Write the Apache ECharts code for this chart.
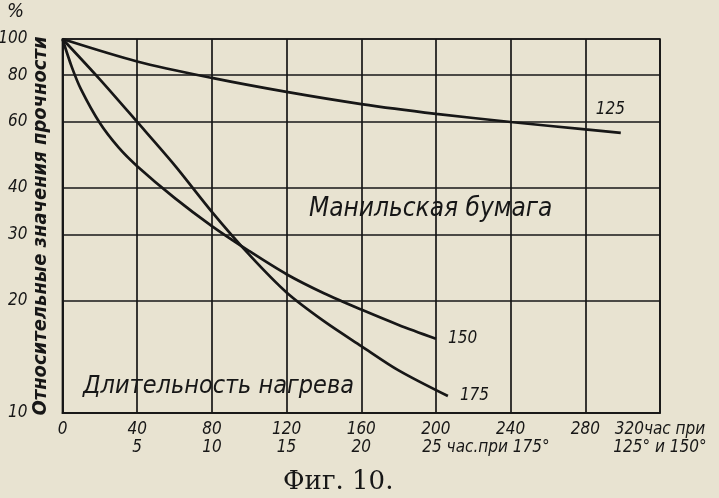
<!DOCTYPE html>
<html><head><meta charset="utf-8">
<script src="https://cdn.jsdelivr.net/npm/echarts@6/dist/echarts.min.js"></script>
<style>html,body{margin:0;padding:0;background:#e8e3d1}#c{width:719px;height:498px}</style>
</head><body><div id="c"></div>
<script>
// ---- data ----
const xTicksMain = [0, 40, 80, 120, 160, 200, 240, 280, 320];
const xLabelsMain = ['0', '40', '80', '120', '160', '200', '240', '280', '320час при'];
const xTicks175 = [5, 10, 15, 20, 25, 40];
const xLabels175 = ['5', '10', '15', '20', '25 час.при 175°', '125° и 150°'];
const yTicks = [10, 20, 30, 40, 60, 80, 100];

const hours125 = [0, 40, 80, 120, 160, 200, 240, 280, 299];
const strength125 = [100, 87.1, 78.7, 72.2, 67.0, 63.1, 60.0, 57.3, 56.1];

const hours150 = [0, 5, 10, 20, 30, 40, 60, 80, 100, 120, 140, 160, 180, 200];
const strength150 = [100, 84.1, 73.2, 59.6, 51.3, 45.7, 37.6, 31.6, 27.1, 23.5, 20.9, 18.9, 17.2, 15.8];

const hours175 = [0, 2.5, 5, 7.5, 10, 12.5, 15, 17.5, 20, 22.5, 25.8];
const strength175 = [100, 78, 60, 46, 34.5, 26.5, 21, 17.6, 15.1, 13.0, 11.1];

// ---- style ----
const ink = '#171717';
const F = "'DejaVu Sans Condensed','Liberation Sans Narrow','DejaVu Sans',sans-serif";
const tickFont = {color: ink, fontFamily: F, fontStyle: 'italic', fontSize: 17};

const chart = echarts.init(document.getElementById('c'), null, {renderer: 'canvas'});

function pairs(xs, ys) { return xs.map((x, i) => [x, ys[i]]); }

const curveStyle = {color: ink, width: 2.7};

const option = {
  backgroundColor: '#e8e3d1',
  animation: false,
  grid: {left: 62.5, right: 59, top: 39, bottom: 85, show: true, borderColor: ink, borderWidth: 1.7, backgroundColor: 'transparent'},
  xAxis: [
    {
      type: 'value', min: 0, max: 320, interval: 40, position: 'bottom',
      axisLine: {show: true, lineStyle: {color: ink, width: 1.7}},
      axisTick: {show: false},
      splitLine: {show: true, lineStyle: {color: ink, width: 1.7}},
      axisLabel: Object.assign({margin: 8, showMinLabel: true, showMaxLabel: true,
        formatter: v => { const i = xTicksMain.indexOf(v); return i >= 0 ? xLabelsMain[i] : ''; }}, tickFont)
    },
    {
      type: 'value', min: 0, max: 40, interval: 5, position: 'bottom', offset: 18,
      axisLine: {show: false}, axisTick: {show: false}, splitLine: {show: false},
      axisLabel: Object.assign({margin: 8, showMinLabel: true, showMaxLabel: true,
        formatter: v => {
          const i = xTicks175.indexOf(v);
          if (i < 0) return '';
          if (v === 25) return '{p|' + xLabels175[i] + '}';
          return xLabels175[i];
        },
        rich: {p: Object.assign({padding: [0, 0, 0, 100]}, tickFont)}
      }, tickFont)
    }
  ],
  yAxis: {
    type: 'log', logBase: 10, min: 10, max: 100,
    axisLine: {show: true, lineStyle: {color: ink, width: 1.7}},
    axisTick: {show: false}, splitLine: {show: false}, axisLabel: {show: false},
    name: 'Относительные значения прочности', nameLocation: 'middle', nameRotate: 90, nameGap: 12,
    nameTextStyle: {color: ink, fontFamily: F, fontStyle: 'italic', fontWeight: 'bold', fontSize: 20}
  },
  series: [
    {
      name: '125', type: 'line', xAxisIndex: 0, yAxisIndex: 0,
      data: pairs(hours125, strength125), smooth: 0.3, showSymbol: false, symbol: 'none',
      lineStyle: curveStyle, z: 5,
      endLabel: Object.assign({show: true, formatter: '125', offset: [-33, -23]}, tickFont),
      markLine: {
        silent: true, symbol: ['none', 'none'], animation: false,
        lineStyle: {color: ink, width: 1.7, type: 'solid'},
        label: Object.assign({show: true, position: 'start', distance: 35,
          formatter: p => String(p.value)}, tickFont),
        data: yTicks.map(v => ({yAxis: v}))
      }
    },
    {
      name: '150', type: 'line', xAxisIndex: 0, yAxisIndex: 0,
      data: pairs(hours150, strength150), smooth: 0.3, showSymbol: false, symbol: 'none',
      lineStyle: curveStyle, z: 5,
      endLabel: Object.assign({show: true, formatter: '150', distance: 12}, tickFont)
    },
    {
      name: '175', type: 'line', xAxisIndex: 1, yAxisIndex: 0,
      data: pairs(hours175, strength175), smooth: 0.3, showSymbol: false, symbol: 'none',
      lineStyle: curveStyle, z: 5,
      endLabel: Object.assign({show: true, formatter: '175', distance: 12}, tickFont)
    }
  ]
};
chart.setOption(option);

// annotations positioned through the chart's scales
const pManila = chart.convertToPixel({xAxisIndex: 0, yAxisIndex: 0}, [132, 35]);
const pDur = chart.convertToPixel({xAxisIndex: 0, yAxisIndex: 0}, [11, 11.8]);
chart.setOption({
  graphic: [
    {type: 'text', left: 7, top: 2, style: {text: '%', fill: ink, font: 'italic 20px ' + F}},
    {type: 'text', x: pManila[0], y: pManila[1], style: {text: 'Манильская бумага', fill: ink, font: 'italic 26px ' + F, verticalAlign: 'middle'}},
    {type: 'text', x: pDur[0], y: pDur[1], style: {text: 'Длительность нагрева', fill: ink, font: 'italic 25px ' + F, verticalAlign: 'middle'}},
    {type: 'text', left: 283, top: 469, style: {text: 'Фиг. 10.', fill: ink, font: '26px "DejaVu Serif","Liberation Serif",serif'}}
  ]
});
</script>
</body></html>
